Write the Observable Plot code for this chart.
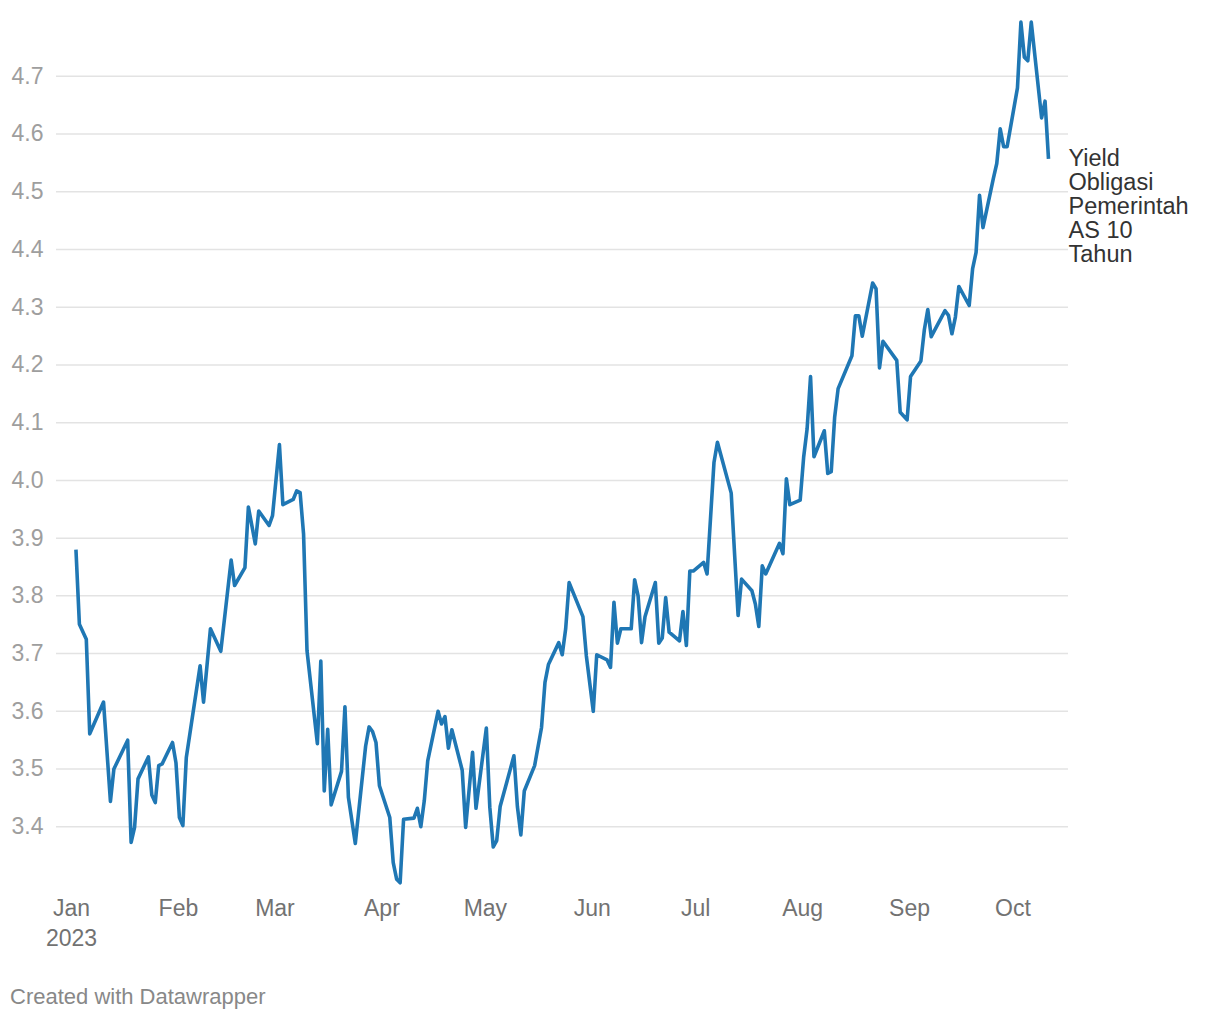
<!DOCTYPE html>
<html>
<head>
<meta charset="utf-8">
<script src="https://cdn.jsdelivr.net/npm/d3@7"></script>
<script src="https://cdn.jsdelivr.net/npm/@observablehq/plot@0.6"></script>
<style>
  html, body { margin: 0; padding: 0; background: #fff; }
  body { width: 1220px; height: 1020px; overflow: hidden; font-family: "Liberation Sans", Arial, Helvetica, sans-serif; }
  #footer { margin: 15px 0 0 10px; font-size: 22px; line-height: 24px; color: #888; }
</style>
</head>
<body>
<div id="chart"></div>
<div id="footer">Created with Datawrapper</div>
<script>
const dates = [
"2023-01-02","2023-01-03","2023-01-05","2023-01-06","2023-01-10","2023-01-12","2023-01-13","2023-01-17","2023-01-18","2023-01-19",
"2023-01-20","2023-01-23","2023-01-24","2023-01-25","2023-01-26","2023-01-27","2023-01-30","2023-01-31","2023-02-01","2023-02-02",
"2023-02-03","2023-02-07","2023-02-08","2023-02-10","2023-02-13","2023-02-16","2023-02-17","2023-02-20","2023-02-21","2023-02-23",
"2023-02-24","2023-02-27","2023-02-28","2023-03-02","2023-03-03","2023-03-06","2023-03-07","2023-03-08","2023-03-09","2023-03-10",
"2023-03-13","2023-03-14","2023-03-15","2023-03-16","2023-03-17","2023-03-20","2023-03-21","2023-03-22","2023-03-24","2023-03-27",
"2023-03-28","2023-03-29","2023-03-30","2023-03-31","2023-04-03","2023-04-04","2023-04-05","2023-04-06","2023-04-07","2023-04-10",
"2023-04-11","2023-04-12","2023-04-13","2023-04-14","2023-04-17","2023-04-18","2023-04-19","2023-04-20","2023-04-21","2023-04-24",
"2023-04-25","2023-04-27","2023-04-28","2023-05-01","2023-05-02","2023-05-03","2023-05-04","2023-05-05","2023-05-09","2023-05-10",
"2023-05-11","2023-05-12","2023-05-15","2023-05-17","2023-05-18","2023-05-19","2023-05-22","2023-05-23","2023-05-24","2023-05-25",
"2023-05-29","2023-05-30","2023-06-01","2023-06-02","2023-06-05","2023-06-06","2023-06-07","2023-06-08","2023-06-09","2023-06-12",
"2023-06-13","2023-06-14","2023-06-15","2023-06-16","2023-06-19","2023-06-20","2023-06-21","2023-06-22","2023-06-23","2023-06-26",
"2023-06-27","2023-06-28","2023-06-29","2023-06-30","2023-07-03","2023-07-04","2023-07-06","2023-07-07","2023-07-11","2023-07-12",
"2023-07-13","2023-07-14","2023-07-17","2023-07-18","2023-07-19","2023-07-20","2023-07-21","2023-07-25","2023-07-26","2023-07-27",
"2023-07-28","2023-07-31","2023-08-01","2023-08-02","2023-08-03","2023-08-04","2023-08-07","2023-08-08","2023-08-09","2023-08-10",
"2023-08-11","2023-08-15","2023-08-16","2023-08-17","2023-08-18","2023-08-21","2023-08-22","2023-08-23","2023-08-24","2023-08-28",
"2023-08-29","2023-08-31","2023-09-01","2023-09-04","2023-09-05","2023-09-06","2023-09-07","2023-09-11","2023-09-12","2023-09-13",
"2023-09-14","2023-09-15","2023-09-18","2023-09-19","2023-09-20","2023-09-21","2023-09-22","2023-09-25","2023-09-26","2023-09-27",
"2023-09-28","2023-09-29","2023-10-02","2023-10-03","2023-10-04","2023-10-05","2023-10-06","2023-10-09","2023-10-10","2023-10-11"
];
const yields = [
3.880,3.751,3.725,3.561,3.616,3.444,3.500,3.550,3.373,3.399,
3.483,3.521,3.455,3.442,3.506,3.509,3.546,3.511,3.416,3.402,
3.520,3.679,3.616,3.743,3.704,3.862,3.818,3.849,3.954,3.890,
3.947,3.922,3.939,4.062,3.958,3.967,3.982,3.979,3.907,3.705,
3.544,3.687,3.462,3.569,3.438,3.496,3.608,3.451,3.371,3.540,
3.573,3.565,3.546,3.471,3.416,3.338,3.309,3.303,3.413,3.415,
3.432,3.400,3.445,3.514,3.600,3.578,3.591,3.536,3.568,3.498,
3.399,3.529,3.432,3.571,3.434,3.365,3.376,3.435,3.523,3.435,
3.386,3.462,3.506,3.572,3.650,3.681,3.719,3.698,3.743,3.823,
3.764,3.696,3.600,3.698,3.689,3.676,3.789,3.718,3.743,3.743,
3.828,3.800,3.719,3.764,3.823,3.718,3.727,3.797,3.737,3.722,
3.773,3.714,3.843,3.843,3.858,3.838,4.031,4.066,3.978,3.870,
3.766,3.829,3.809,3.786,3.747,3.852,3.838,3.891,3.873,4.003,
3.958,3.966,4.040,4.089,4.180,4.041,4.086,4.012,4.015,4.110,
4.159,4.216,4.285,4.285,4.250,4.342,4.332,4.195,4.241,4.208,
4.118,4.105,4.180,4.207,4.261,4.296,4.249,4.294,4.286,4.254,
4.283,4.336,4.303,4.367,4.395,4.494,4.438,4.523,4.549,4.609,
4.578,4.578,4.680,4.794,4.733,4.727,4.794,4.628,4.657,4.557
];
const yTicks = [3.4,3.5,3.6,3.7,3.8,3.9,4.0,4.1,4.2,4.3,4.4,4.5,4.6,4.7];
const monthTicks = ["2023-01-01","2023-02-01","2023-03-01","2023-04-01","2023-05-01","2023-06-01","2023-07-01","2023-08-01","2023-09-01","2023-10-01"];
const monthLabels = ["Jan","Feb","Mar","Apr","May","Jun","Jul","Aug","Sep","Oct"];
const yearTicks = ["2023-01-01"];
const yearLabels = ["2023"];
const seriesLabel = "Yield\nObligasi\nPemerintah\nAS 10\nTahun";

const data = dates.map((d, i) => ({date: new Date(d), value: yields[i]}));
const months = monthTicks.map((d, i) => ({date: new Date(d), label: monthLabels[i]}));
const years = yearTicks.map((d, i) => ({date: new Date(d), label: yearLabels[i]}));
const last = data[data.length - 1];

const font = '"Liberation Sans", Arial, Helvetica, sans-serif';

const chart = Plot.plot({
  width: 1220,
  height: 970,
  marginLeft: 72,
  marginRight: 172,
  marginTop: 21,
  marginBottom: 86,
  style: {fontFamily: font, fontSize: "23px", background: "#fff", overflow: "visible"},
  x: {type: "utc", domain: [new Date("2023-01-01"), new Date("2023-10-11")], axis: null},
  y: {domain: [3.30, 4.795], axis: null},
  marks: [
    Plot.ruleY(yTicks, {stroke: "#e3e3e3", strokeWidth: 1.5, insetLeft: -16, insetRight: -20}),
    Plot.text(yTicks, {y: d => d, text: d => d.toFixed(1), frameAnchor: "left", dx: -61, textAnchor: "start", fill: "#9e9e9e", fontSize: 23}),
    Plot.text(months, {x: "date", text: "label", frameAnchor: "bottom", dy: 31, dx: -1, fill: "#727272", fontSize: 23}),
    Plot.text(years, {x: "date", text: "label", frameAnchor: "bottom", dy: 61, dx: -1, fill: "#727272", fontSize: 23}),
    Plot.line(data, {x: "date", y: "value", stroke: "#1f77b4", strokeWidth: 3.6, strokeLinejoin: "round", strokeLinecap: "butt"}),
    Plot.text([last], {x: "date", y: "value", text: () => seriesLabel, textAnchor: "start", lineAnchor: "top", lineHeight: 1.02, dx: 20, dy: -10, fill: "#333", fontSize: 23.5})
  ]
});
document.getElementById("chart").appendChild(chart);
</script>
</body>
</html>
